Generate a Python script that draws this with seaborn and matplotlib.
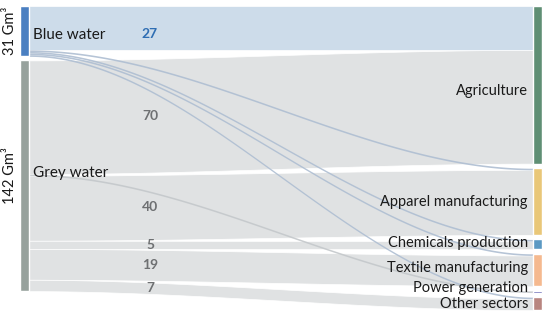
import numpy as np
import matplotlib.pyplot as plt
import seaborn as sns

# data (Gm³)
sources = ['Blue water', 'Grey water']
source_labels = ['31 Gm³', '142 Gm³']
targets = ['Agriculture', 'Apparel manufacturing', 'Chemicals production',
           'Textile manufacturing', 'Power generation', 'Other sectors']
blue_values = [27, 1, 1, 1, 0, 1]
grey_values = [70, 40, 5, 19, 1, 7]
grey_order = [0, 4, 1, 2, 3, 5]  # order of grey outflows at the source

# colours
source_colors = ['#4a7fc1', '#97a29d']
target_colors = ['#5f8f74', '#e9c778', '#5b99c3', '#f5b98f', '#5659ad', '#b8857f']
band_colors = ['#cddcea', '#e0e2e3']
thin_colors = ['#aebed2', '#c4c8cb']
value_colors = ['#2f6eb3', '#6e7072']

sns.set_theme(style='white')
plt.rcParams['font.family'] = ['Lato', 'DejaVu Sans']

k = 1.625            # px per Gm³
gap_l, gap_r = 4 / k, 4.6 / k
x0, x1 = 29, 533

fig = plt.figure(figsize=(5.5, 3.2), dpi=100)
ax = fig.add_axes([0, 0, 1, 1])
ax.set_xlim(0, 550)
ax.set_ylim((320 - 6) / k, -6 / k)
ax.axis('off')

flows = [blue_values, grey_values]
orders = [list(range(len(targets))), grey_order]
src_tot = [sum(v) for v in flows]
src_top = [0, src_tot[0] + gap_l]
tgt_tot = [b + g for b, g in zip(blue_values, grey_values)]
tgt_top = np.concatenate([[0], np.cumsum(np.array(tgt_tot) + gap_r)[:-1]])

# left / right offsets of each flow
links = []
tgt_cur = tgt_top.copy().astype(float)
right_pos = {}
for j in range(len(targets)):
    for i in range(2):
        right_pos[(i, j)] = tgt_cur[j]
        tgt_cur[j] += flows[i][j]
for i in range(2):
    cur = src_top[i]
    for j in orders[i]:
        v = flows[i][j]
        if v > 0:
            links.append((i, j, v, cur, right_pos[(i, j)]))
        cur += v

xs = np.linspace(x0, x1, 300)
t = (xs - x0) / (x1 - x0)
s = t * t * (3 - 2 * t)

# wide flows first (grey behind blue), thin flows on top
for i, j, v, L, R in sorted(links, key=lambda l: (l[2] < 5, -l[0])):
    top = L + (R - L) * s
    if v >= 5:
        ax.fill_between(xs, top, top + v, color=band_colors[i], lw=0.5, edgecolor='white', zorder=1)
    else:
        ax.fill_between(xs, top, top + v, color=thin_colors[i], lw=0, alpha=0.9, zorder=2)

# value labels
for i, j, v, L, R in links:
    if v >= 5:
        sv = np.interp(150, xs, s)
        yc = L + (R - L) * sv + v / 2
        if i == 0:
            yc += 4
        ax.text(150, yc, str(v), ha='center', va='center', fontsize=10,
                fontweight='bold', color=value_colors[i], zorder=3)

# source nodes
name_shift = [2.5, -2]
for i in range(2):
    ax.bar(24.5, src_tot[i], bottom=src_top[i], width=9, color=source_colors[i], zorder=3)
    yc = src_top[i] + src_tot[i] / 2
    ax.text(33, yc + name_shift[i], sources[i], ha='left', va='center', fontsize=11,
            color='#1a1a1a', zorder=4)
    ax.text(10, yc, source_labels[i], ha='center', va='center', rotation=90,
            fontsize=10.5, color='#1a1a1a')

# target nodes
label_shift = [3.5, 0, -1, -1, -2.5, 0]
for j in range(len(targets)):
    ax.bar(537.5, max(tgt_tot[j], 1.2), bottom=tgt_top[j], width=9, color=target_colors[j], zorder=3)
    yc = tgt_top[j] + tgt_tot[j] / 2
    ax.text(528, yc + label_shift[j], targets[j], ha='right', va='center', fontsize=10.5,
            color='#1a1a1a', zorder=4)

fig.savefig('out.png', dpi=100)
